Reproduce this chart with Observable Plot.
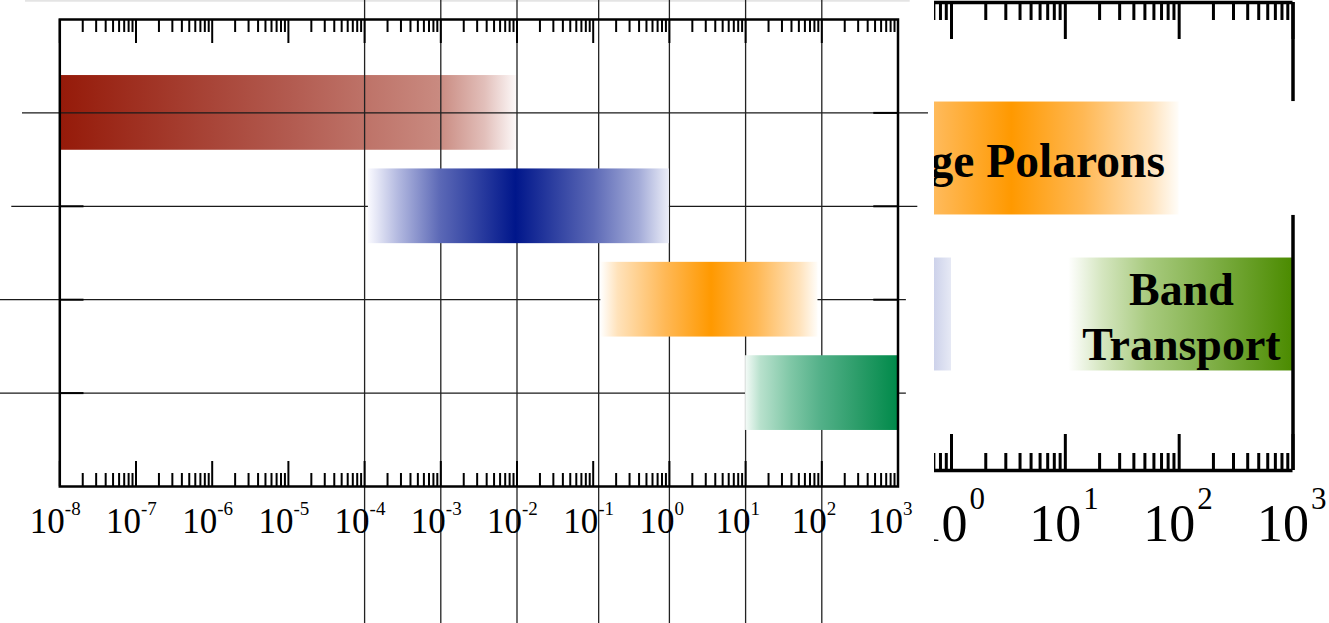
<!DOCTYPE html>
<html><head><meta charset="utf-8">
<script src="https://cdn.jsdelivr.net/npm/d3@7"></script>
<script src="https://cdn.jsdelivr.net/npm/@observablehq/plot@0.6"></script>
<style>
html,body{margin:0;padding:0;background:#fff;}
#wrap{position:relative;width:1329px;height:623px;overflow:hidden;background:#fff;}
#left{position:absolute;left:0;top:0;width:934px;height:623px;}
#right{position:absolute;left:934px;top:0;width:395px;height:623px;overflow:hidden;background:#fff;}
</style></head><body>
<div id="wrap"><div id="left"></div><div id="right"></div></div>
<script>
// ---------- data: left panel ----------
const decadeExponents = [-8, -7, -6, -5, -4, -3, -2, -1, 0, 1, 2, 3];
const gridValues = [1e-4, 1e-3, 1e-2, 0.118, 1, 10, 100];
const lineRows = [1, 2, 3, 4];
const lineStart = [10 ** -8.49, 10 ** -8.63, 10 ** -8.8, 10 ** -8.8];
const lineEnd = [10 ** 3.4, 10 ** 3.26, 10 ** 3.11, 10 ** 3.11];
const leftTickRows = [2, 3, 4];
const rightTickRows = [1, 2, 3];
const barIds = ["gRed", "gBlue", "gOrange", "gGreen"];
const barRows = [1, 2, 3, 4];
const barStart = [1e-8, 10 ** -3.95, 10 ** -0.9, 10];
const barEnd = [1e-2, 1, 10 ** 1.95, 1000];
const fadedTopLine = {x1: 10 ** -8.45, x2: 10 ** 3.16, y: -0.2};

// ---------- data: right (enlarged) panel ----------
const rDecadeExponents = [-1, 0, 1, 2, 3];
const rBarIds = ["rgBlue", "rgOrange", "rgGreen"];
const rBarRows = [2, 1, 2];
const rBarStart = [1e-4, 0.1, 10 ** 1.03];
const rBarEnd = [1, 100, 1000];
const rLabels = ["Large Polarons", "Band\nTransport"];
const rLabelRows = [1, 2];
const rLabelX = [10 ** 0.505, 10 ** 2.02];
const rLabelSize = [47.5, 46];

// ---------- gradient styles ----------
const gradientStops = {
  gRed: [[0, "#951a09"], [0.5, "#b25a4f"], [0.83, "#c98a80"], [0.93, "#e2bfba"], [1, "#fdf9f9"]],
  gBlue: [[0, "#fafaff"], [0.1, "#b3b9e0"], [0.24, "#5b68b6"], [0.49, "#00168b"], [0.75, "#5c69b6"], [0.9, "#a3abd8"], [1, "#eceef8"]],
  gOrange: [[0, "#ffffff"], [0.08, "#ffe2ba"], [0.3, "#ffb855"], [0.51, "#ff9900"], [0.72, "#ffb854"], [0.92, "#ffe3bd"], [1, "#fffdf9"]],
  gGreen: [[0, "#f5fbf8"], [0.1, "#b8e1cd"], [0.3, "#7fc7a6"], [0.5, "#52b088"], [0.75, "#2a9c68"], [1, "#008a4a"]],
  rgBlue: [[0, "#fafaff"], [0.1, "#b3b9e0"], [0.24, "#5b68b6"], [0.49, "#00168b"], [0.75, "#5c69b6"], [0.9, "#a3abd8"], [1, "#e6e9f5"]],
  rgOrange: [[0, "#ffffff"], [0.08, "#ffe2ba"], [0.3, "#ffb855"], [0.51, "#ff9900"], [0.72, "#ffb854"], [0.92, "#ffe3bd"], [1, "#fffdf9"]],
  rgGreen: [[0, "#ffffff"], [0.15, "#d5e6c0"], [0.35, "#a9cb80"], [0.65, "#7eae45"], [1, "#4b8b00"]]
};

function gradientDefs(ids) {
  return () => {
    const ns = "http://www.w3.org/2000/svg";
    const defs = document.createElementNS(ns, "defs");
    for (const id of ids) {
      const g = document.createElementNS(ns, "linearGradient");
      g.setAttribute("id", id);
      g.setAttribute("x1", "0"); g.setAttribute("x2", "1");
      g.setAttribute("y1", "0"); g.setAttribute("y2", "0");
      for (const [o, c] of gradientStops[id]) {
        const s = document.createElementNS(ns, "stop");
        s.setAttribute("offset", o);
        s.setAttribute("stop-color", c);
        g.appendChild(s);
      }
      defs.appendChild(g);
    }
    return defs;
  };
}

const minorTicks = (lo, hi) => {
  const out = [];
  for (let k = lo; k < hi; k++) for (let m = 2; m <= 9; m++) out.push(m * 10 ** k);
  return out;
};

// ---------- left panel ----------
const bars = barIds.map((id, i) => ({id, row: barRows[i], x1: barStart[i], x2: barEnd[i]}));
const hLines = lineRows.map((r, i) => ({row: r, x1: lineStart[i], x2: lineEnd[i]}));
const majors = decadeExponents.map(e => 10 ** e);
const minors = minorTicks(-8, 3);
const barRect = b => Plot.rect([b], {x1: "x1", x2: "x2", y1: d => d.row - 0.4, y2: d => d.row + 0.4, fill: `url(#${b.id})`});
const serif = "Liberation Serif, Times New Roman, serif";

const left = Plot.plot({
  width: 934, height: 623,
  marginLeft: 59.3, marginRight: 36.5, marginTop: 19, marginBottom: 137,
  x: {type: "log", domain: [1e-8, 1e3], axis: null},
  y: {domain: [0, 5], reverse: true, axis: null},
  style: {background: "white"},
  marks: [
    gradientDefs(barIds),
    Plot.ruleY([fadedTopLine], {y: "y", x1: "x1", x2: "x2", stroke: "#e4e4e4", strokeWidth: 2}),
    barRect(bars[0]),
    Plot.ruleY(hLines, {y: "row", x1: "x1", x2: "x2", stroke: "#1a1a1a", strokeWidth: 1.2}),
    Plot.ruleX(gridValues, {x: d => d, y1: -0.3, y2: 6.8, stroke: "#222", strokeWidth: 1.3}),
    Plot.ruleY(leftTickRows, {y: d => d, insetRight: 838 - 24, stroke: "black", strokeWidth: 2}),
    Plot.ruleY(rightTickRows, {y: d => d, insetLeft: 838 - 24, stroke: "black", strokeWidth: 2}),
    ...bars.slice(1).map(barRect),
    Plot.frame({stroke: "black", strokeWidth: 2.5}),
    Plot.ruleX(majors, {x: d => d, insetBottom: 467 - 24, stroke: "black", strokeWidth: 2}),
    Plot.ruleX(minors, {x: d => d, insetBottom: 467 - 13, stroke: "black", strokeWidth: 2}),
    Plot.ruleX(majors, {x: d => d, insetTop: 467 - 25, stroke: "black", strokeWidth: 2}),
    Plot.ruleX(minors, {x: d => d, insetTop: 467 - 13, stroke: "black", strokeWidth: 2}),
    Plot.text(decadeExponents, {x: d => 10 ** d, text: () => "10", frameAnchor: "bottom", lineAnchor: "bottom",
      textAnchor: "end", dx: 5, dy: 46, fontSize: 35, fontFamily: serif, fill: "black"}),
    Plot.text(decadeExponents, {x: d => 10 ** d, text: d => `${d}`, frameAnchor: "bottom", lineAnchor: "bottom",
      textAnchor: "start", dx: 5, dy: 28, fontSize: 19, fontFamily: serif, fill: "black"})
  ]
});
document.getElementById("left").appendChild(left);

// ---------- right panel ----------
const rBars = rBarIds.map((id, i) => ({id, row: rBarRows[i], x1: rBarStart[i], x2: rBarEnd[i]}));
const rMajors = rDecadeExponents.map(e => 10 ** e);
const rMinors = minorTicks(-1, 3);
const rLab = rLabels.map((t, i) => ({text: t, row: rLabelRows[i], x: rLabelX[i], size: rLabelSize[i]}));
const rBarRect = b => Plot.rect([b], {x1: "x1", x2: "x2", y1: d => d.row - 0.362, y2: d => d.row + 0.362, fill: `url(#${b.id})`});

const right = Plot.plot({
  width: 395, height: 623,
  marginLeft: 0, marginRight: 36.5, marginTop: 2, marginBottom: 153,
  x: {type: "log", domain: [1, 1000], range: [17, 358.5], axis: null},
  y: {domain: [0, 3], reverse: true, axis: null},
  style: {background: "white"},
  marks: [
    gradientDefs(rBarIds),
    ...rBars.map(rBarRect),
    Plot.ruleY([0, 3], {y: d => d, x1: 10 ** -0.3, x2: 1000, stroke: "black", strokeWidth: 3.5}),
    Plot.ruleX([1000], {x: d => d, stroke: "black", strokeWidth: 3.5}),
    Plot.rect([rBars[1]], {x1: "x2", x2: () => 10 ** 3.1, y1: d => d.row - 0.365, y2: d => d.row + 0.365, fill: "white"}),
    Plot.ruleX(rMajors, {x: d => d, insetBottom: 468 - 37, stroke: "black", strokeWidth: 3}),
    Plot.ruleX(rMinors, {x: d => d, insetBottom: 468 - 18, stroke: "black", strokeWidth: 3}),
    Plot.ruleX(rMajors, {x: d => d, insetTop: 468 - 36, stroke: "black", strokeWidth: 3}),
    Plot.ruleX(rMinors, {x: d => d, insetTop: 468 - 17, stroke: "black", strokeWidth: 3}),
    ...rLab.map(l => Plot.text([l], {x: "x", y: "row", text: "text", fontSize: l.size, fontWeight: "bold", lineHeight: 1.2,
      fontFamily: serif, fill: "black"})),
    Plot.text(rDecadeExponents, {x: d => 10 ** d, text: () => "10", frameAnchor: "bottom", lineAnchor: "bottom",
      textAnchor: "end", dx: 16, dy: 70, fontSize: 52, fontFamily: serif, fill: "black"}),
    Plot.text(rDecadeExponents, {x: d => 10 ** d, text: d => `${d}`, frameAnchor: "bottom", lineAnchor: "bottom",
      textAnchor: "start", dx: 18, dy: 38, fontSize: 31, fontFamily: serif, fill: "black"})
  ]
});
document.getElementById("right").appendChild(right);
</script>
</body></html>
